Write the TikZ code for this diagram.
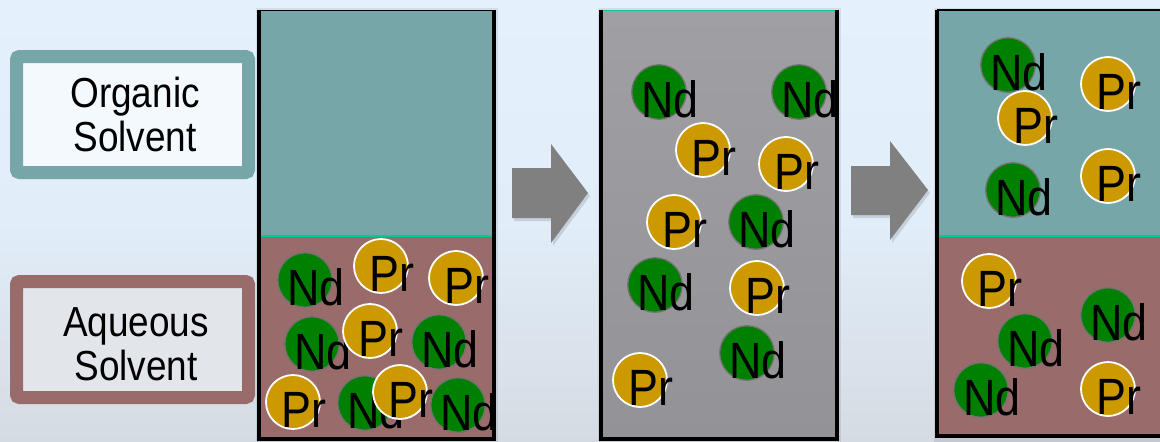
\documentclass[tikz,border=0pt]{standalone}
\usepackage{fontspec}
\setmainfont{Liberation Sans}[FakeStretch=0.88]
\definecolor{bgtop}{HTML}{E4F0FC}
\definecolor{bgmid}{HTML}{E1EDF9}
\definecolor{bgbot}{HTML}{D5DBE2}
\definecolor{orgteal}{HTML}{76A6A7}
\definecolor{aqmauve}{HTML}{996B6B}
\definecolor{iface}{HTML}{00C99A}
\definecolor{ndgreen}{HTML}{008000}
\definecolor{prgold}{HTML}{CC9900}
\definecolor{mixtop}{HTML}{A09FA3}
\definecolor{mixbot}{HTML}{939296}
\definecolor{arrowgrey}{HTML}{808080}
\newcommand\pution[5]{%
  \node[#2] (#1) at (#3,#4) {};
  \node[iontext] (#1t) at ([shift={(11,25.5)}]#1.center) {#5};}
\begin{document}
\begin{tikzpicture}[x=1pt,y=-1pt,
  ndball/.style={circle, draw=black!55, line width=1.3pt, fill=ndgreen, minimum size=54.5pt, inner sep=0pt},
  prball/.style={circle, draw=white, line width=1.8pt, fill=prgold, minimum size=54pt, inner sep=0pt},
  iontext/.style={anchor=base, inner sep=0pt, font=\fontsize{51}{56}\selectfont},
  frame/.style={rectangle, line width=13pt, rounded corners=3pt, minimum width=232pt, minimum height=116pt, inner sep=0pt},
  labeltext/.style={align=center, inner sep=0pt, font=\fontsize{42}{44}\selectfont},
  wall/.style={line width=4pt, black},
  rim/.style={line width=1.2pt, black},
  blockarrow/.style={fill=arrowgrey},
  arrowshadow/.style={fill=black, opacity=0.12},
]
\useasboundingbox (0,0) rectangle (1160,442);
\shade[top color=bgtop, bottom color=bgbot, middle color=bgmid] (0,0) rectangle (1160,442);

% label frames
\node[frame, draw=orgteal, fill=white!60!bgtop] (orgbox) at (132.5,114.5) {};
\node[labeltext] (orgtext) at (135,114.7) {Organic\\Solvent};
\node[frame, draw=aqmauve, fill=white!30!bgbot] (aqbox) at (132.5,339.5) {};
\node[labeltext] (aqtext) at (136,344) {Aqueous\\Solvent};

% beaker 1
\fill[black, opacity=0.08] (256,8) rectangle (498,442);
\fill[orgteal] (259,10) rectangle (494,236);
\fill[aqmauve] (259,236) rectangle (494,440);
\draw[iface, line width=2pt] (261,236) -- (492,236);
\draw[rim] (259,10.5) -- (494,10.5);
\draw[wall] (259,10) -- (259,439) -- (494,439) -- (494,10);

% arrow 1
\fill[arrowshadow] (514,171) -- (553,171) -- (553,147) -- (590,196) -- (553,246) -- (553,221) -- (514,221) -- cycle;
\fill[blockarrow] (512,168) -- (551,168) -- (551,144) -- (588,193) -- (551,243) -- (551,218) -- (512,218) -- cycle;

% beaker 2
\fill[black, opacity=0.08] (598,8) rectangle (841,442);
\shade[top color=mixtop, bottom color=mixbot] (601,10) rectangle (837,440);
\draw[iface, line width=1.5pt] (601,10.5) -- (837,10.5);
\draw[wall] (601,10) -- (601,439) -- (837,439) -- (837,10);

% arrow 2
\fill[arrowshadow] (853,169) -- (892,169) -- (892,144) -- (930,193) -- (892,243) -- (892,218) -- (853,218) -- cycle;
\fill[blockarrow] (851,166) -- (890,166) -- (890,141) -- (928,190) -- (890,240) -- (890,215) -- (851,215) -- cycle;

% beaker 3
\fill[black, opacity=0.08] (934,8) rectangle (1160,442);
\fill[orgteal] (937,10) rectangle (1160,236);
\fill[aqmauve] (937,236) rectangle (1160,437);
\draw[iface, line width=2pt] (939,236) -- (1160,236);
\draw[rim] (937,10) -- (1160,10);
\draw[wall] (937,10) -- (937,436) -- (1160,436);

% ions beaker 1
\pution{a1}{ndball}{305}{280}{Nd}
\pution{a2}{prball}{381}{266}{Pr}
\pution{a3}{prball}{456}{278}{Pr}
\pution{a4}{ndball}{312}{344}{Nd}
\pution{a5}{prball}{370}{331}{Pr}
\pution{a6}{ndball}{439}{342}{Nd}
\pution{a7}{prball}{293}{402}{Pr}
\pution{a9}{ndball}{365}{403}{Nd}
\pution{a8}{prball}{400}{392}{Pr}
\pution{a10}{ndball}{458}{405}{Nd}

% ions beaker 2
\pution{b1}{ndball}{659}{92}{Nd}
\pution{b2}{ndball}{799}{92}{Nd}
\pution{b3}{prball}{703}{150}{Pr}
\pution{b4}{prball}{786}{164}{Pr}
\pution{b5}{prball}{674}{222}{Pr}
\pution{b6}{ndball}{756}{222}{Nd}
\pution{b7}{ndball}{655}{285}{Nd}
\pution{b8}{prball}{757}{288}{Pr}
\pution{b9}{ndball}{747}{353}{Nd}
\pution{b10}{prball}{640}{380}{Pr}

% ions beaker 3
\pution{c1}{ndball}{1008}{65}{Nd}
\pution{c2}{prball}{1025}{118}{Pr}
\pution{c3}{prball}{1108}{84}{Pr}
\pution{c4}{ndball}{1013}{190}{Nd}
\pution{c5}{prball}{1108}{176}{Pr}
\pution{c6}{prball}{989}{281}{Pr}
\pution{c7}{ndball}{1025}{341}{Nd}
\pution{c8}{ndball}{1108}{315}{Nd}
\pution{c9}{ndball}{981}{390}{Nd}
\pution{c10}{prball}{1108}{389}{Pr}
\end{tikzpicture}
\end{document}
